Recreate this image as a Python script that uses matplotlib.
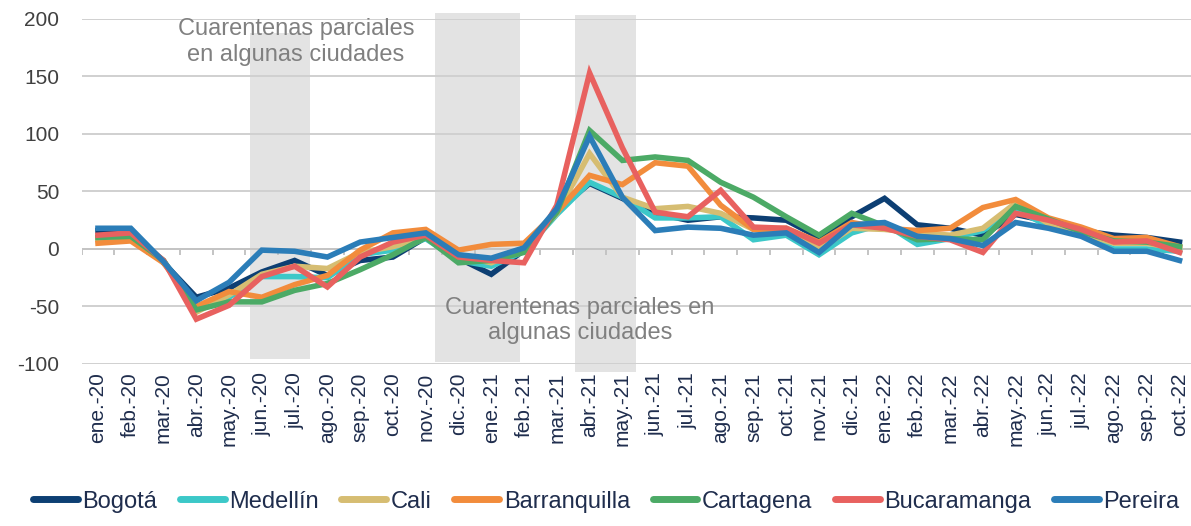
import numpy as np
import matplotlib
matplotlib.use("Agg")
import matplotlib.pyplot as plt
from matplotlib.patches import Rectangle

months = ["ene.-20", "feb.-20", "mar.-20", "abr.-20", "may.-20", "jun.-20", "jul.-20",
          "ago.-20", "sep.-20", "oct.-20", "nov.-20", "dic.-20", "ene.-21", "feb.-21",
          "mar.-21", "abr.-21", "may.-21", "jun.-21", "jul.-21", "ago.-21", "sep.-21",
          "oct.-21", "nov.-21", "dic.-21", "ene.-22", "feb.-22", "mar.-22", "abr.-22",
          "may.-22", "jun.-22", "jul.-22", "ago.-22", "sep.-22", "oct.-22"]

bogota = [16, 17, -12, -42, -34, -20, -10, -23, -10, -7, 10, -8, -22, -1, 33, 57, 44,
          31, 25, 28, 27, 25, 10, 28, 44, 21, 18, 12, 30, 24, 16, 12, 10, 6]
medellin = [10, 10, -11, -50, -42, -24, -24, -25, -5, -1, 9, -10, -15, -2, 30, 58, 45,
            27, 27, 28, 8, 12, -5, 14, 22, 4, 9, 16, 34, 20, 12, 0, 0, -2]
cali = [9, 11, -10, -55, -40, -22, -15, -17, -3, 2, 10, -6, -12, 0, 31, 83, 45,
        35, 37, 31, 17, 15, 0, 18, 17, 14, 12, 18, 40, 22, 14, 5, 5, 0]
barranquilla = [5, 7, -12, -50, -37, -42, -31, -23, -1, 14, 17, -1, 4, 5, 32, 64, 56,
                75, 72, 38, 17, 18, 6, 23, 18, 16, 18, 36, 43, 27, 19, 9, 10, 2]
cartagena = [10, 11, -10, -53, -46, -46, -36, -30, -18, -5, 10, -12, -10, -3, 32, 103, 77,
             80, 77, 58, 45, 28, 12, 31, 20, 8, 9, 8, 37, 26, 15, 7, 6, 2]
bucaramanga = [12, 14, -10, -61, -49, -24, -15, -33, -7, 6, 12, -7, -10, -12, 38, 153, 88,
               32, 28, 51, 19, 18, 5, 21, 18, 11, 8, -3, 31, 25, 17, 6, 7, -3]
pereira = [18, 18, -11, -45, -29, -1, -2, -7, 6, 10, 14, -5, -8, 1, 35, 98, 45,
           16, 19, 18, 12, 14, -3, 21, 23, 11, 9, 3, 23, 18, 11, -2, -2, -10]

cities = ["Bogotá", "Medellín", "Cali", "Barranquilla", "Cartagena", "Bucaramanga", "Pereira"]
series = [bogota, medellin, cali, barranquilla, cartagena, bucaramanga, pereira]
colors = ["#0d3f73", "#3cc8c8", "#d6bd72", "#f28c3c", "#4caa66", "#e8615f", "#2b7db8"]

yticks = [-100, -50, 0, 50, 100, 150, 200]

# shaded quarantine periods: (x start, x end, y bottom, y top)
shades = [(4.63, 6.46, -96, 188), (10.27, 12.87, -98, 205), (14.57, 16.43, -107, 203)]

plt.rcParams["font.family"] = ["Liberation Sans", "DejaVu Sans"]

fig = plt.figure(figsize=(11.91, 5.26), dpi=100)
ax = fig.add_axes([0.0685, 0.308, 0.9315, 0.656])

x = np.arange(len(months))

for x0, x1, y0, y1 in shades:
    ax.add_patch(Rectangle((x0, y0), x1 - x0, y1 - y0, color="#e3e3e3",
                           zorder=0.5, clip_on=False, lw=0))

for name, vals, c in zip(cities, series, colors):
    ax.plot(x, vals, color=c, lw=4.0, label=name, solid_joinstyle="miter", zorder=3)

ax.set_xlim(-0.5, 33.35)
ax.set_ylim(-100, 200)
ax.set_yticks(yticks)
ax.set_yticklabels([str(v) for v in yticks])
ax.grid(axis="y", color="#d0d0d0", lw=1.4, zorder=1)
ax.set_axisbelow(True)
for s in ax.spines.values():
    s.set_visible(False)

ax.set_xticks(x)
ax.set_xticklabels(months, rotation=90)
ax.tick_params(axis="x", length=0, pad=6, labelsize=15, labelcolor="#1f2d4d")
ax.tick_params(axis="y", length=0, pad=16, labelsize=15, labelcolor="#404040")

# zero line with category separator ticks
ax.axhline(0, color="#c4c4c4", lw=1.4, zorder=1.5)
ax.vlines(np.arange(-0.5, len(months), 1), -5, 0, color="#c4c4c4", lw=1.4, zorder=1.5)

ax.text(6.04, 180, "Cuarentenas parciales\nen algunas ciudades", ha="center", va="center",
        fontsize=17, color="#808080", linespacing=1.2, zorder=4)
ax.text(14.7, -62, "Cuarentenas parciales en\nalgunas ciudades", ha="center", va="center",
        fontsize=17, color="#808080", linespacing=1.2, zorder=4)

leg = fig.legend(loc="lower center", bbox_to_anchor=(0.509, -0.015), ncol=7, frameon=False,
                 handlelength=1.9, handletextpad=0.2, columnspacing=0.95,
                 prop={"size": 17})
for t in leg.get_texts():
    t.set_color("#1f2d4d")
for h in leg.get_lines():
    h.set_linewidth(5)
    h.set_solid_capstyle("round")

fig.savefig("out.png", dpi=100)
